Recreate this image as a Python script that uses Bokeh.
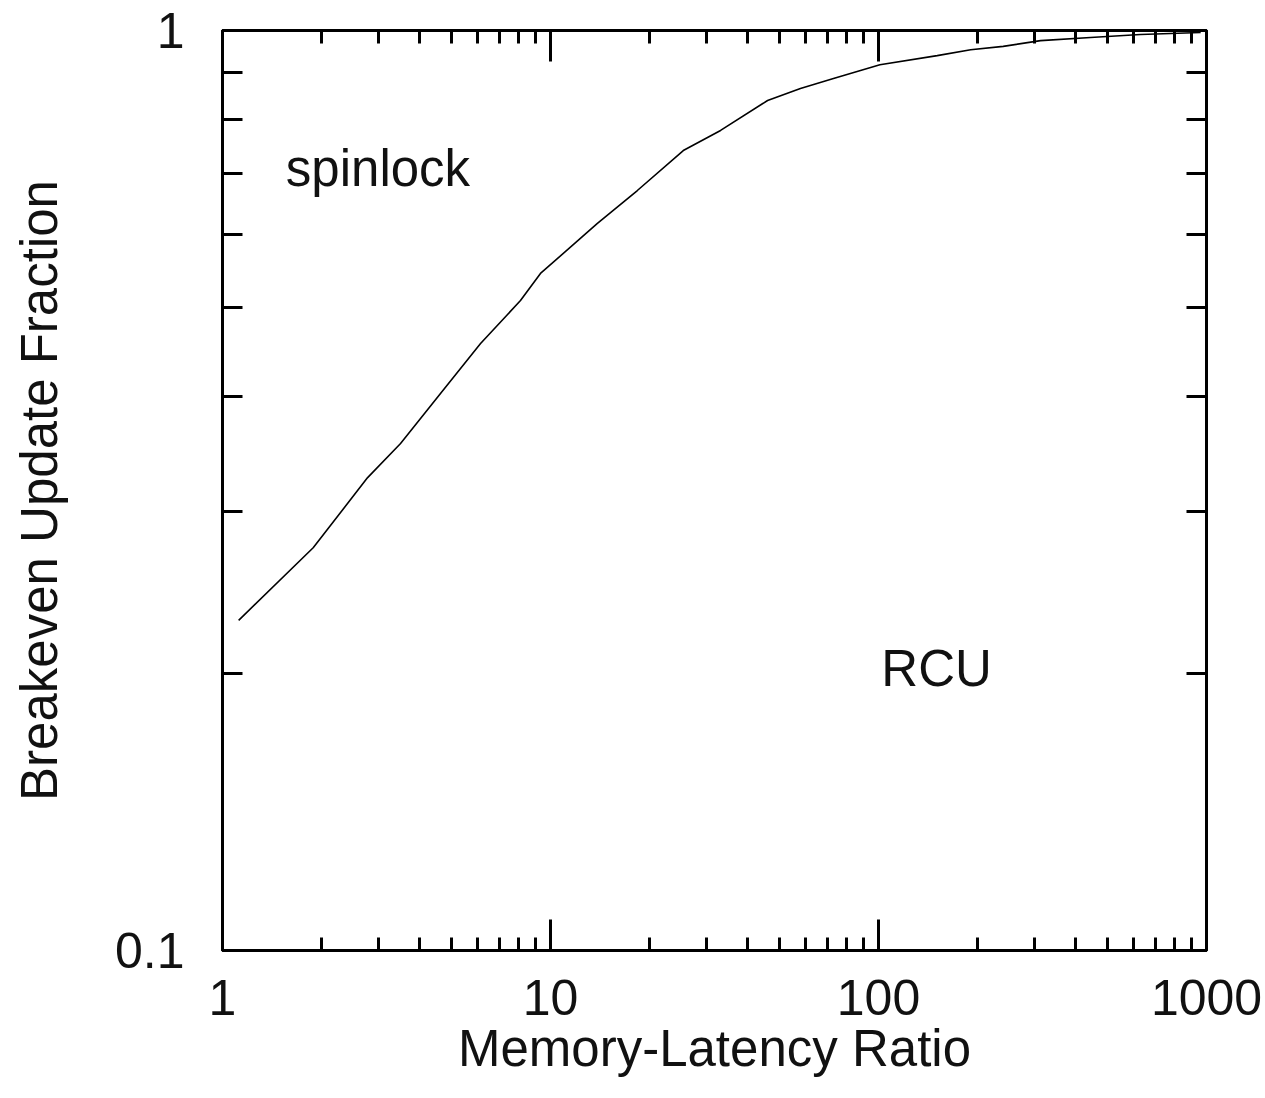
from bokeh.plotting import figure
from bokeh.models import (Range1d, FixedTicker, LogAxis, Label, ColumnDataSource,
                          CustomJSTickFormatter)
from bokeh.embed import file_html
from bokeh.resources import INLINE

# Data
ratio = [1.12, 1.89, 2.77, 3.49, 4.62, 6.12, 8.10, 9.32, 13.9, 18.4, 25.4, 33.0,
         45.9, 57.8, 72.9, 101, 151, 191, 240, 312, 443, 629, 960]
fraction = [0.2285, 0.274, 0.3266, 0.3557, 0.403, 0.4568, 0.5087, 0.5444, 0.617,
            0.670, 0.7405, 0.7787, 0.8392, 0.865, 0.887, 0.918, 0.939, 0.953,
            0.961, 0.975, 0.9826, 0.990, 0.995]

x_major = [1, 10, 100, 1000]
x_minor = [2, 3, 4, 5, 6, 7, 8, 9, 20, 30, 40, 50, 60, 70, 80, 90,
           200, 300, 400, 500, 600, 700, 800, 900]
y_major = [0.1, 1]
y_minor = [0.2, 0.3, 0.4, 0.5, 0.6, 0.7, 0.8, 0.9]

x_title = "Memory-Latency Ratio"
y_title = "Breakeven Update Fraction"
annotations = [("spinlock", 1.56, 0.708), ("RCU", 102.0, 0.2025)]

FONT = "Liberation Sans"
TICK_FS = "50px"
FS = "51px"

W, H = 1262, 1090
p = figure(width=W, height=H, x_axis_type="log", y_axis_type="log",
           x_range=Range1d(1, 1000), y_range=Range1d(0.1, 1),
           output_backend="svg", toolbar_location=None, title=None,
           min_border_left=222, min_border_top=30,
           min_border_right=W - 1206, min_border_bottom=H - 950)
p.grid.visible = False
p.outline_line_color = "black"
p.outline_line_width = 3
p.background_fill_color = "white"
p.border_fill_color = "white"

xt = FixedTicker(ticks=x_major, minor_ticks=x_minor)
yt = FixedTicker(ticks=y_major, minor_ticks=y_minor)
fmt = CustomJSTickFormatter(code="return tick.toString()")
blank = CustomJSTickFormatter(code="return ''")


def style(ax, major_in, minor_in):
    ax.axis_line_color = "black"
    ax.axis_line_width = 3
    ax.major_tick_line_color = "black"
    ax.major_tick_line_width = 3
    ax.minor_tick_line_color = "black"
    ax.minor_tick_line_width = 3
    ax.major_tick_in = major_in
    ax.major_tick_out = 0
    ax.minor_tick_in = minor_in
    ax.minor_tick_out = 0
    ax.major_label_text_font = FONT
    ax.major_label_text_font_size = TICK_FS
    ax.major_label_text_color = "#111111"
    ax.axis_label_text_font = FONT
    ax.axis_label_text_font_size = FS
    ax.axis_label_text_font_style = "normal"
    ax.axis_label_text_color = "#111111"


xa = p.xaxis[0]
xa.ticker = xt
xa.formatter = fmt
style(xa, 31, 13)
xa.major_label_standoff = 29
xa.axis_label = x_title
xa.axis_label_standoff = 2

ya = p.yaxis[0]
ya.ticker = yt
ya.formatter = fmt
style(ya, 31, 20)
ya.major_label_standoff = 38
ya.axis_label = y_title
ya.axis_label_standoff = 44

top = LogAxis(ticker=xt, formatter=blank)
style(top, 31, 13)
top.major_label_standoff = 0
p.add_layout(top, "above")

right = LogAxis(ticker=yt, formatter=blank)
style(right, 31, 20)
right.major_label_standoff = 0
p.add_layout(right, "right")

src = ColumnDataSource(dict(x=ratio, y=fraction))
p.line("x", "y", source=src, line_color="black", line_width=1.6)

for txt, lx, ly in annotations:
    p.add_layout(Label(x=lx, y=ly, text=txt, text_font=FONT, text_font_size=FS,
                       text_color="#111111", text_baseline="alphabetic",
                       text_align="left"))

open("out.html", "w").write(file_html(p, INLINE))
